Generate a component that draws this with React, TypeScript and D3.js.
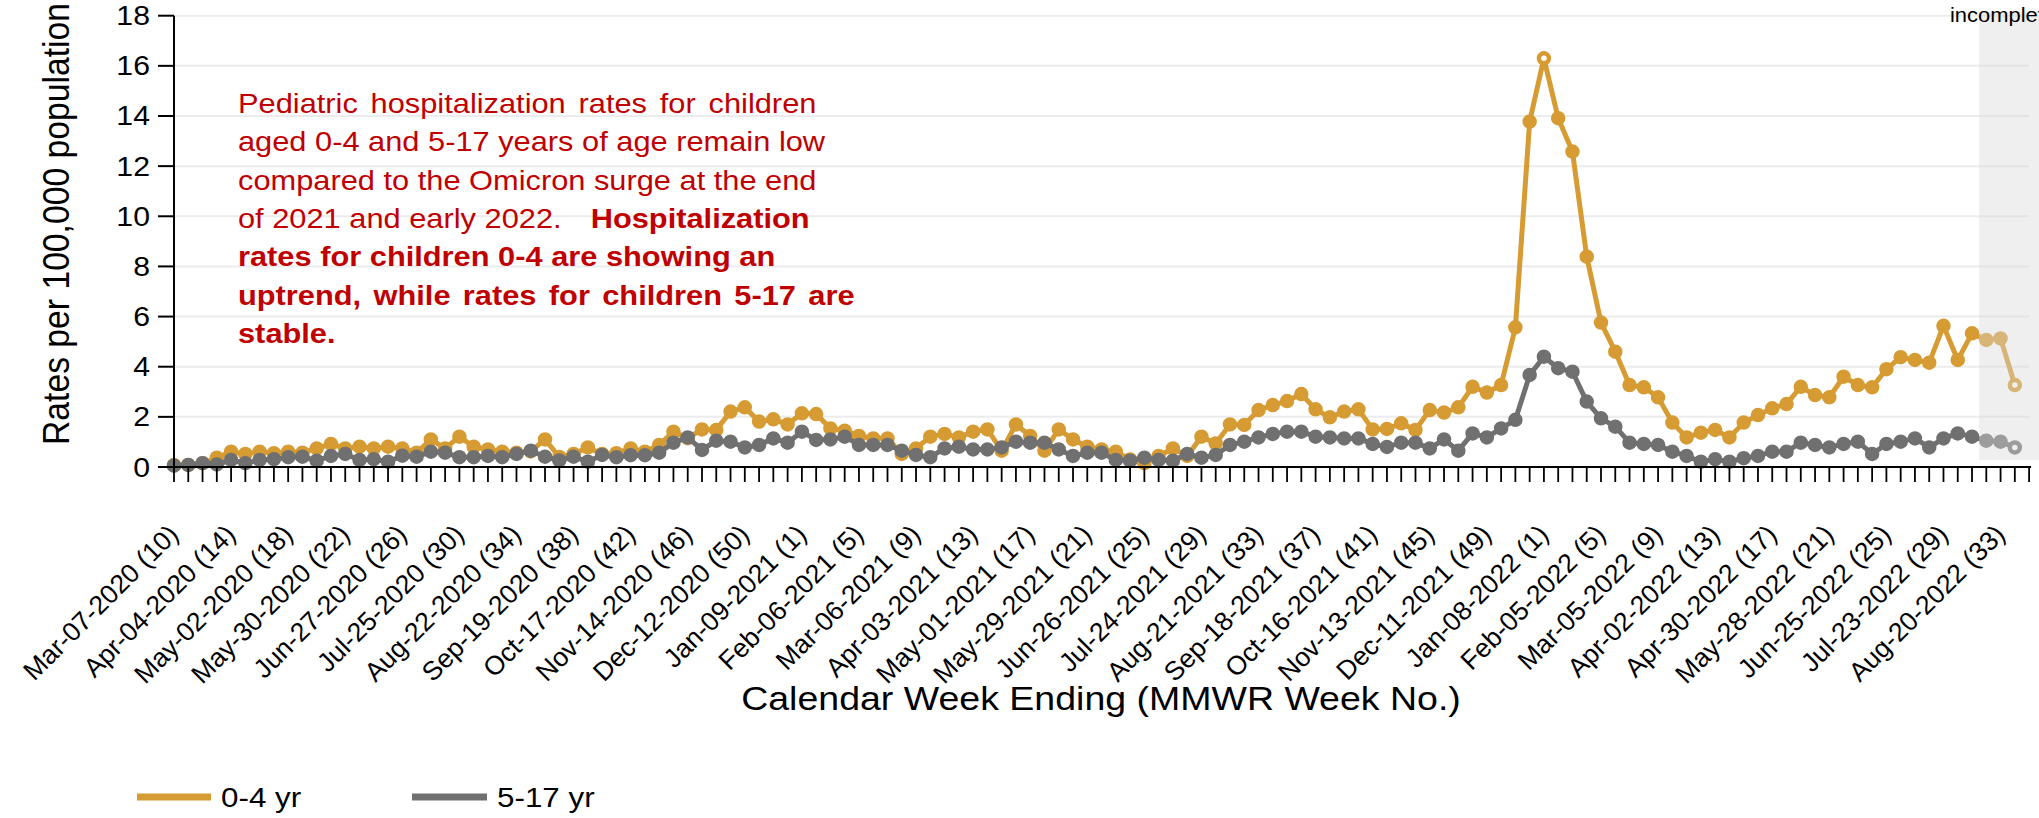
import React from "react";
import * as d3 from "d3";

// ---- DATA ----
const tickLabels: string[] = [
  "Mar-07-2020 (10)", "Apr-04-2020 (14)", "May-02-2020 (18)", "May-30-2020 (22)",
  "Jun-27-2020 (26)", "Jul-25-2020 (30)", "Aug-22-2020 (34)", "Sep-19-2020 (38)",
  "Oct-17-2020 (42)", "Nov-14-2020 (46)", "Dec-12-2020 (50)", "Jan-09-2021 (1)",
  "Feb-06-2021 (5)", "Mar-06-2021 (9)", "Apr-03-2021 (13)", "May-01-2021 (17)",
  "May-29-2021 (21)", "Jun-26-2021 (25)", "Jul-24-2021 (29)", "Aug-21-2021 (33)",
  "Sep-18-2021 (37)", "Oct-16-2021 (41)", "Nov-13-2021 (45)", "Dec-11-2021 (49)",
  "Jan-08-2022 (1)", "Feb-05-2022 (5)", "Mar-05-2022 (9)", "Apr-02-2022 (13)",
  "Apr-30-2022 (17)", "May-28-2022 (21)", "Jun-25-2022 (25)", "Jul-23-2022 (29)",
  "Aug-20-2022 (33)",
];

const rate0to4: number[] = [
  0.08, 0.08, 0.15, 0.37, 0.61, 0.52, 0.61, 0.55, 0.61, 0.57,
  0.74, 0.92, 0.74, 0.81, 0.74, 0.81, 0.74, 0.57, 1.10, 0.74,
  1.21, 0.81, 0.70, 0.61, 0.57, 0.62, 1.10, 0.40, 0.52, 0.78,
  0.52, 0.55, 0.74, 0.61, 0.88, 1.41, 1.15, 1.50, 1.48, 2.21,
  2.38, 1.81, 1.90, 1.70, 2.14, 2.11, 1.54, 1.45, 1.24, 1.14,
  1.14, 0.52, 0.74, 1.21, 1.32, 1.18, 1.41, 1.50, 0.65, 1.70,
  1.24, 0.65, 1.50, 1.10, 0.81, 0.70, 0.61, 0.30, 0.15, 0.44,
  0.74, 0.44, 1.21, 0.94, 1.70, 1.68, 2.27, 2.47, 2.63, 2.91,
  2.30, 1.98, 2.21, 2.30, 1.50, 1.52, 1.74, 1.48, 2.27, 2.17,
  2.38, 3.20, 2.97, 3.27, 5.57, 13.78, 16.30, 13.91, 12.58, 8.39,
  5.76, 4.60, 3.27, 3.18, 2.78, 1.77, 1.18, 1.37, 1.48, 1.18,
  1.77, 2.07, 2.34, 2.51, 3.20, 2.87, 2.78, 3.60, 3.27, 3.18,
  3.90, 4.38, 4.27, 4.16, 5.63, 4.27, 5.33, 5.07, 5.13, 3.27,
];

const rate5to17: number[] = [
  0.05, 0.08, 0.15, 0.10, 0.28, 0.15, 0.28, 0.31, 0.39, 0.41,
  0.25, 0.44, 0.52, 0.28, 0.31, 0.21, 0.45, 0.41, 0.61, 0.57,
  0.39, 0.39, 0.44, 0.39, 0.52, 0.65, 0.41, 0.26, 0.41, 0.21,
  0.48, 0.39, 0.47, 0.47, 0.57, 0.97, 1.18, 0.68, 1.05, 1.01,
  0.78, 0.88, 1.14, 0.97, 1.41, 1.08, 1.10, 1.21, 0.88, 0.88,
  0.88, 0.65, 0.48, 0.39, 0.74, 0.81, 0.70, 0.70, 0.78, 1.01,
  0.97, 0.97, 0.70, 0.44, 0.57, 0.57, 0.28, 0.25, 0.37, 0.28,
  0.25, 0.52, 0.37, 0.48, 0.88, 1.01, 1.18, 1.32, 1.41, 1.41,
  1.21, 1.18, 1.14, 1.14, 0.92, 0.80, 0.97, 0.97, 0.74, 1.10,
  0.65, 1.34, 1.18, 1.54, 1.88, 3.67, 4.40, 3.94, 3.80, 2.61,
  1.94, 1.61, 0.97, 0.92, 0.88, 0.61, 0.44, 0.21, 0.31, 0.21,
  0.35, 0.44, 0.61, 0.61, 0.97, 0.88, 0.78, 0.92, 1.01, 0.52,
  0.92, 1.01, 1.14, 0.78, 1.14, 1.34, 1.21, 1.05, 1.01, 0.78,
];

const yTicks: number[] = [0, 2, 4, 6, 8, 10, 12, 14, 16, 18];
const incompleteWeeks = 3;
const hollowIndex0to4 = [96, 129];
const hollowIndex5to17 = [129];

const annotationLines: { text: string; bold?: string; boldOnly?: boolean; ws: number }[] = [
  { text: "Pediatric hospitalization rates for children", ws: 3.8 },
  { text: "aged 0-4 and 5-17 years of age remain low", ws: 0 },
  { text: "compared to the Omicron surge at the end", ws: 0 },
  { text: "of 2021 and early 2022.", bold: "Hospitalization", ws: 0 },
  { text: "rates for children 0-4 are showing an", boldOnly: true, ws: 0 },
  { text: "uptrend, while rates for children 5-17 are", boldOnly: true, ws: 3.4 },
  { text: "stable.", boldOnly: true, ws: 0 },
];

// ---- STYLE ----
const W = 2039;
const H = 818;
const FONT = "'Liberation Sans', Arial, Helvetica, sans-serif";
const SX = 1.12; // horizontal stretch of text in reference
const ORANGE = "#D69B32";
const GRAY = "#707070";
const RED = "#C00000";

export default function App() {
  const n = rate0to4.length;
  const x = d3.scaleLinear().domain([0, n]).range([174, 174 + n * 14.27]);
  const y = d3.scaleLinear().domain([0, 18]).range([467, 15.7]);

  const line = d3
    .line<number>()
    .x((_, i) => x(i))
    .y((d) => y(d));

  const firstIncomplete = n - incompleteWeeks;
  const shadeX = (x(firstIncomplete - 1) + x(firstIncomplete)) / 2;

  const series = [
    { values: rate0to4, color: ORANGE, hollow: hollowIndex0to4 },
    { values: rate5to17, color: GRAY, hollow: hollowIndex5to17 },
  ];

  const allTicks = d3.range(0, n + 1);

  return (
    <svg
      width={W}
      height={H}
      style={{ position: "absolute", left: 0, top: 0, display: "block", background: "#fff" }}
      fontFamily={FONT}
    >
      {/* gridlines */}
      {yTicks.map((t) => (
        <line key={"g" + t} x1={x(0)} x2={x(n)} y1={y(t)} y2={y(t)} stroke="#ececec" strokeWidth={2} />
      ))}

      {/* series */}
      {series.map((s, si) => (
        <g key={"s" + si}>
          <path d={line(s.values) || ""} fill="none" stroke={s.color} strokeWidth={5} strokeLinejoin="round" />
          {s.values.map((v, i) => {
            const hollow = s.hollow.includes(i);
            return (
              <circle
                key={i}
                cx={x(i)}
                cy={y(v)}
                r={hollow ? 5 : 6}
                fill={hollow ? "#fff" : s.color}
                stroke={s.color}
                strokeWidth={hollow ? 4.5 : 2.5}
              />
            );
          })}
        </g>
      ))}

      {/* incomplete shading */}
      <rect x={shadeX} y={12} width={W - shadeX} height={448} fill="rgb(217,217,217)" fillOpacity={0.42} />
      <g transform={`translate(1950,22) scale(${SX},1)`}>
        <text fontSize={19.6} fill="#000">incomplete</text>
      </g>

      {/* y axis */}
      <line x1={174} x2={174} y1={y(18)} y2={y(0)} stroke="#000" strokeWidth={2} />
      {yTicks.map((t) => (
        <g key={"yt" + t}>
          <line x1={158} x2={174} y1={y(t)} y2={y(t)} stroke="#000" strokeWidth={2} />
          <g transform={`translate(150,${y(t) + 9.5}) scale(${SX},1)`}>
            <text fontSize={27} textAnchor="end" fill="#000">{t}</text>
          </g>
        </g>
      ))}
      <g transform={`translate(69,224) scale(${SX},1) rotate(-90)`}>
        <text fontSize={33.7} textAnchor="middle" fill="#000">Rates per 100,000 population</text>
      </g>

      {/* x axis */}
      <line x1={174} x2={x(n) + 2} y1={y(0)} y2={y(0)} stroke="#000" strokeWidth={2} />
      {allTicks.map((i) => (
        <line key={"xt" + i} x1={x(i)} x2={x(i)} y1={y(0)} y2={y(0) + 15} stroke="#000" strokeWidth={1.8} />
      ))}
      {tickLabels.map((lab, k) => (
        <g key={"xl" + k} transform={`translate(${x(k * 4) + 6},536) rotate(-45)`}>
          <text fontSize={26.5} textAnchor="end" fill="#000">{lab}</text>
        </g>
      ))}
      <g transform={`translate(1101,710) scale(${SX},1)`}>
        <text fontSize={33.5} textAnchor="middle" fill="#000">Calendar Week Ending (MMWR Week No.)</text>
      </g>

      {/* annotation */}
      {annotationLines.map((l, k) => (
        <g key={"a" + k} transform={`translate(238,${113 + k * 38.3}) scale(${SX},1)`}>
          <text
            fontSize={27.5}
            fill={RED}
            fontWeight={l.boldOnly ? "bold" : "normal"}
            style={{ wordSpacing: `${l.ws}px` }}
          >
            {l.text}
            {l.bold ? (
              <tspan dx={26} fontWeight="bold">{l.bold}</tspan>
            ) : null}
          </text>
        </g>
      ))}

      {/* legend */}
      <line x1={137} x2={211} y1={797} y2={797} stroke={ORANGE} strokeWidth={7} />
      <g transform={`translate(221,807) scale(${SX},1)`}>
        <text fontSize={28} fill="#000">0-4 yr</text>
      </g>
      <line x1={412} x2={487} y1={797} y2={797} stroke={GRAY} strokeWidth={7} />
      <g transform={`translate(497,807) scale(${SX},1)`}>
        <text fontSize={28} fill="#000">5-17 yr</text>
      </g>
    </svg>
  );
}
